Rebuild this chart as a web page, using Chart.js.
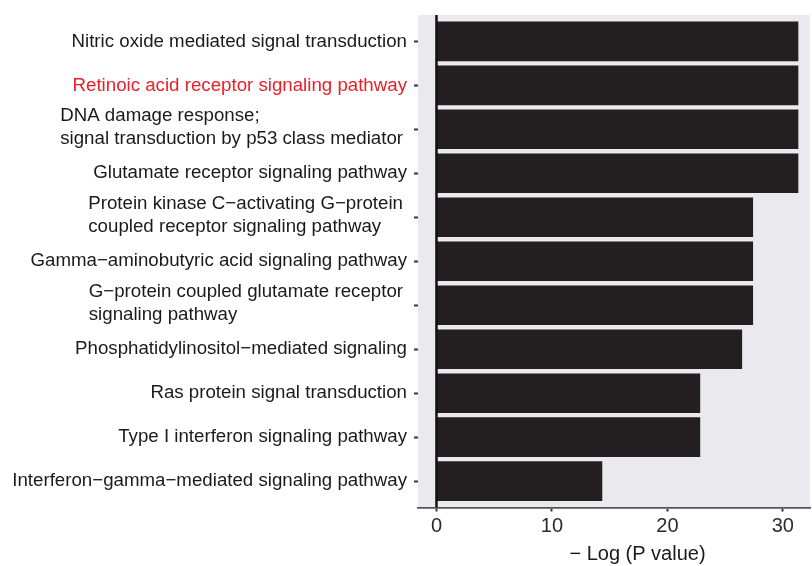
<!DOCTYPE html>
<html>
<head>
<meta charset="utf-8">
<script src="https://cdn.jsdelivr.net/npm/chart.js@4"></script>
<style>
  html, body { margin: 0; padding: 0; background: #ffffff; }
  #wrap { width: 812px; height: 566px; }
</style>
</head>
<body>
<div id="wrap"><canvas id="c" width="812" height="566"></canvas></div>
<script>
// GO biological process terms (multi-line terms as arrays of lines)
const categories = [
  "Nitric oxide mediated signal transduction",
  "Retinoic acid receptor signaling pathway",
  ["DNA damage response;", "signal transduction by p53 class mediator"],
  "Glutamate receptor signaling pathway",
  ["Protein kinase C\u2212activating G\u2212protein", "coupled receptor signaling pathway"],
  "Gamma\u2212aminobutyric acid signaling pathway",
  ["G\u2212protein coupled glutamate receptor", "signaling pathway"],
  "Phosphatidylinositol\u2212mediated signaling",
  "Ras protein signal transduction",
  "Type I interferon signaling pathway",
  "Interferon\u2212gamma\u2212mediated signaling pathway"
];

// -log(P value) for each term
const negLogP = [31.34, 31.34, 31.34, 31.34, 27.42, 27.42, 27.42, 26.47, 22.84, 22.84, 14.36];

const xTicks = [0, 10, 20, 30];
const xTitle = "\u2212 Log (P value)";
const highlighted = [1];

const FONT = '"Liberation Sans", Arial, Helvetica, sans-serif';

// panel background
const panelBg = {
  id: 'panelBg',
  beforeDraw(chart) {
    const { ctx, chartArea: a } = chart;
    ctx.save();
    ctx.fillStyle = '#E9E9EE';
    ctx.fillRect(a.left, a.top, a.right - a.left, a.bottom - a.top);
    ctx.restore();
  }
};

// reference line at x = 0
const zeroLine = {
  id: 'zeroLine',
  afterDatasetsDraw(chart) {
    const { ctx, chartArea: a, scales } = chart;
    const x = scales.x.getPixelForValue(0);
    ctx.save();
    ctx.strokeStyle = '#111111';
    ctx.lineWidth = 2.5;
    ctx.beginPath();
    ctx.moveTo(x, a.top);
    ctx.lineTo(x, a.bottom);
    ctx.stroke();
    ctx.restore();
  }
};

// term labels: block right-aligned to the axis, lines left-aligned within block;
// x-axis title below the tick labels
const termLabels = {
  id: 'termLabels',
  afterDraw(chart) {
    const { ctx, scales } = chart;
    const y = scales.y;
    ctx.save();
    ctx.font = '18.7px ' + FONT;
    ctx.textBaseline = 'middle';
    ctx.textAlign = 'left';
    categories.forEach((lab, i) => {
      const lines = Array.isArray(lab) ? lab : [lab];
      const yc = y.getPixelForValue(i);
      const w = Math.max(...lines.map(l => ctx.measureText(l).width));
      const right = lines.length > 1 ? 403 : 407;
      const x0 = right - w;
      const lh = 22.5;
      const off = lines.length > 1 ? -2 : 0;
      ctx.fillStyle = highlighted.includes(i) ? '#E8202A' : '#1A1A1A';
      lines.forEach((l, j) => {
        ctx.fillText(l, x0, yc + off + (j - (lines.length - 1) / 2) * lh);
      });
    });

    ctx.font = '20px ' + FONT;
    ctx.textAlign = 'center';
    ctx.fillStyle = '#1A1A1A';
    ctx.fillText(xTitle, 637.5, 554.5);
    ctx.restore();
  }
};

new Chart(document.getElementById('c'), {
  type: 'bar',
  data: {
    datasets: [{
      data: negLogP.map((v, i) => ({ x: v, y: i })),
      backgroundColor: '#231F20',
      borderWidth: 0,
      categoryPercentage: 0.9,
      barPercentage: 1.0
    }]
  },
  options: {
    indexAxis: 'y',
    responsive: false,
    animation: false,
    devicePixelRatio: 1,
    layout: { padding: { top: 15, right: 2, left: 0, bottom: 0 } },
    plugins: { legend: { display: false }, tooltip: { enabled: false } },
    scales: {
      y: {
        type: 'linear',
        reverse: true,
        offset: false,
        min: -0.6,
        max: categories.length - 1 + 0.6,
        afterBuildTicks(s) { s.ticks = categories.map((c, i) => ({ value: i })); },
        ticks: { display: false },
        grid: {
          display: true, offset: false, drawOnChartArea: false, drawTicks: true,
          tickLength: 4, tickColor: '#333333', tickWidth: 2
        },
        border: { display: false },
        afterFit(s) { s.width = 418; }
      },
      x: {
        type: 'linear',
        min: -1.6,
        max: 32.35,
        afterBuildTicks(s) { s.ticks = xTicks.map(v => ({ value: v })); },
        ticks: {
          color: '#2B2B2B',
          font: { family: FONT, size: 20 },
          padding: 3,
          maxRotation: 0
        },
        grid: {
          display: true, drawOnChartArea: false, drawTicks: true,
          tickLength: 4, tickColor: '#333333', tickWidth: 2
        },
        border: { display: true, color: '#555555', width: 1.8 },
        title: { display: false },
        afterFit(s) { s.height = 58.5; }
      }
    }
  },
  plugins: [panelBg, zeroLine, termLabels]
});
</script>
</body>
</html>
